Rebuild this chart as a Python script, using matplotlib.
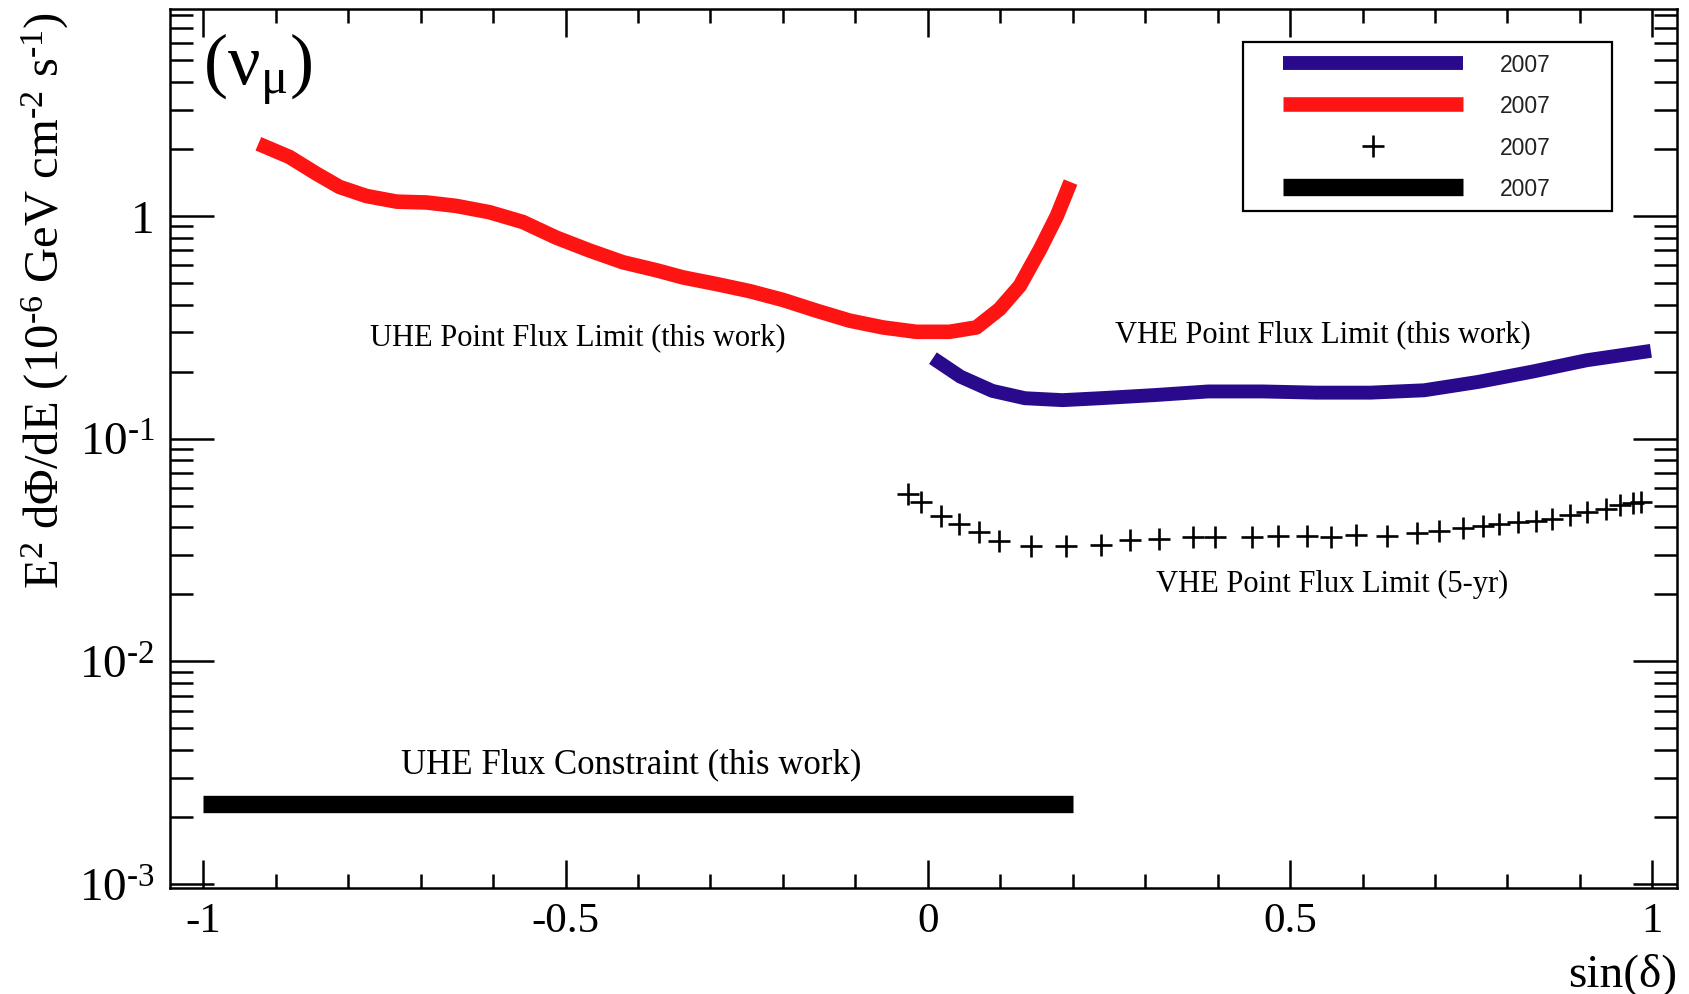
import matplotlib
matplotlib.use("Agg")
import matplotlib.pyplot as plt
from matplotlib.ticker import MultipleLocator, LogLocator, NullFormatter
from matplotlib.patches import Rectangle

plt.rcParams['font.family'] = ['Liberation Serif', 'DejaVu Serif']
plt.rcParams['mathtext.fontset'] = 'custom'
plt.rcParams['mathtext.rm'] = 'Liberation Serif'
plt.rcParams['mathtext.it'] = 'Liberation Serif:italic'
plt.rcParams['mathtext.bf'] = 'Liberation Serif:bold'
plt.rcParams['axes.unicode_minus'] = False

# ---------------- data ----------------
# UHE point flux limit (red)
red_x = [-0.924, -0.881, -0.844, -0.812, -0.775, -0.733, -0.692, -0.651, -0.605,
         -0.559, -0.513, -0.467, -0.421, -0.374, -0.338, -0.292, -0.246, -0.200,
         -0.154, -0.108, -0.062, -0.016, 0.030, 0.067, 0.099, 0.127, 0.155, 0.178, 0.197]
red_y = [2.11, 1.84, 1.55, 1.35, 1.23, 1.16, 1.15, 1.11, 1.04,
         0.94, 0.80, 0.70, 0.62, 0.57, 0.53, 0.495, 0.46, 0.42,
         0.376, 0.339, 0.316, 0.302, 0.302, 0.316, 0.382, 0.486, 0.71, 1.00, 1.42]

# VHE point flux limit, this work (blue)
blue_x = [0.007, 0.045, 0.089, 0.134, 0.186, 0.238, 0.313, 0.387, 0.462, 0.536,
          0.611, 0.685, 0.760, 0.834, 0.909, 0.998]
blue_y = [0.230, 0.190, 0.164, 0.152, 0.149, 0.152, 0.157, 0.163, 0.163, 0.161,
          0.161, 0.165, 0.180, 0.200, 0.225, 0.248]

# VHE point flux limit, 5-yr (crosses)
cross_x = [-0.027, -0.010, 0.018, 0.043, 0.071, 0.098, 0.143, 0.191, 0.239, 0.279,
           0.319, 0.366, 0.397, 0.447, 0.483, 0.524, 0.557, 0.591, 0.634, 0.675,
           0.706, 0.738, 0.766, 0.788, 0.815, 0.840, 0.861, 0.886, 0.910, 0.936,
           0.955, 0.973, 0.985]
cross_y = [0.0565, 0.0518, 0.0451, 0.0414, 0.0380, 0.0348, 0.0329, 0.0329, 0.0333, 0.0351,
           0.0355, 0.0361, 0.0361, 0.0363, 0.0367, 0.0367, 0.0361, 0.0369, 0.0367, 0.0379,
           0.0386, 0.0396, 0.0406, 0.0414, 0.0421, 0.0425, 0.0436, 0.0454, 0.0470, 0.0486,
           0.0503, 0.0513, 0.0518]

# UHE flux constraint (black bar)
bar_x = [-1.0, 0.2]
bar_y = [0.0023, 0.0023]

legend_labels = ['2007', '2007', '2007', '2007']

HY = '\u2010'  # short hyphen used as minus in the original
xtick_vals = [-1, -0.5, 0, 0.5, 1]
xtick_labels = ['-1', '-0.5', '0', '0.5', '1']
ytick_vals = [1e-3, 1e-2, 1e-1, 1]
ytick_labels = [r'$\mathregular{10^{' + HY + '3}}$', r'$\mathregular{10^{' + HY + '2}}$',
                r'$\mathregular{10^{' + HY + '1}}$', '1']

# ---------------- figure ----------------
W, H = 1690, 995
fig = plt.figure(figsize=(16.9, 9.95), dpi=100)
ax = fig.add_axes([170 / W, 1 - 889 / H, 1507 / W, 879 / H])

blue_c = '#2a0a8c'
red_c = '#ff1414'

h_blue, = ax.plot(blue_x, blue_y, color=blue_c, lw=10, solid_capstyle='butt',
                  solid_joinstyle='round')
h_red, = ax.plot(red_x, red_y, color=red_c, lw=10.5, solid_capstyle='butt',
                 solid_joinstyle='round')
h_cross, = ax.plot(cross_x, cross_y, ls='none', marker='+', color='black',
                   markersize=16, markeredgewidth=1.9)
h_bar, = ax.plot(bar_x, bar_y, color='black', lw=12.5, solid_capstyle='butt')

ax.set_yscale('log')
ax.set_xlim(-1.046, 1.034)
ax.set_ylim(9.61e-4, 8.5)

ax.set_xticks(xtick_vals, xtick_labels)
ax.xaxis.set_minor_locator(MultipleLocator(0.1))
ax.set_yticks(ytick_vals, ytick_labels)
ax.yaxis.set_minor_locator(LogLocator(base=10, subs=[2, 3, 4, 5, 6, 7, 8, 9], numticks=20))
ax.yaxis.set_minor_formatter(NullFormatter())

ax.tick_params(axis='both', which='both', direction='in', top=True, right=True,
               width=1.8, color='black')
ax.tick_params(axis='x', which='major', length=20, labelsize=31, pad=10)
ax.tick_params(axis='x', which='minor', length=10)
ax.tick_params(axis='y', which='major', length=32, labelsize=34, pad=11)
ax.tick_params(axis='y', which='minor', length=16.5)
for s in ax.spines.values():
    s.set_linewidth(1.8)

# axis labels
ylab = (r'E$^{\mathregular{2}}$ dΦ/dE (10$^{\mathregular{' + HY + '6}}$ GeV cm$^{\mathregular{'
        + HY + '2}}$ s$^{\mathregular{' + HY + '1}}$)')
fig.text(45 / W, 1 - 301 / H, ylab, rotation=90, ha='center', va='center', fontsize=35)
fig.text(1677 / W, 1 - 975 / H, 'sin(δ)', ha='right', va='center', fontsize=34)

# panel tag
ax.text(0.022, 0.932, r'(ν$_{\mathregular{μ}}$)', transform=ax.transAxes,
        ha='left', va='center', fontsize=52)

# annotations
ax.text(-0.483, 0.286, 'UHE Point Flux Limit (this work)', ha='center', va='center', fontsize=22)
ax.text(0.545, 0.295, 'VHE Point Flux Limit (this work)', ha='center', va='center', fontsize=22)
ax.text(0.558, 0.0225, 'VHE Point Flux Limit (5-yr)', ha='center', va='center', fontsize=22)
ax.text(-0.410, 0.00346, 'UHE Flux Constraint (this work)', ha='center', va='center', fontsize=25)

# legend
leg = fig.legend([h_blue, h_red, h_cross, h_bar], legend_labels,
                 loc='upper left', bbox_to_anchor=(1283 / W, 1 - 54 / H),
                 bbox_transform=fig.transFigure, frameon=False, borderpad=0,
                 borderaxespad=0, handlelength=7.85, handletextpad=1.6,
                 labelspacing=0.8, numpoints=1,
                 prop={'family': ['Liberation Sans', 'DejaVu Sans'], 'size': 16.5})
for t in leg.get_texts():
    t.set_color('#222222')
leg.set_zorder(6)
frame = Rectangle((1243 / W, 1 - 212 / H), 369 / W, 169 / H, transform=fig.transFigure,
                  facecolor='white', edgecolor='black', lw=1.6, zorder=5)
fig.add_artist(frame)

fig.savefig('out.png', dpi=100)
